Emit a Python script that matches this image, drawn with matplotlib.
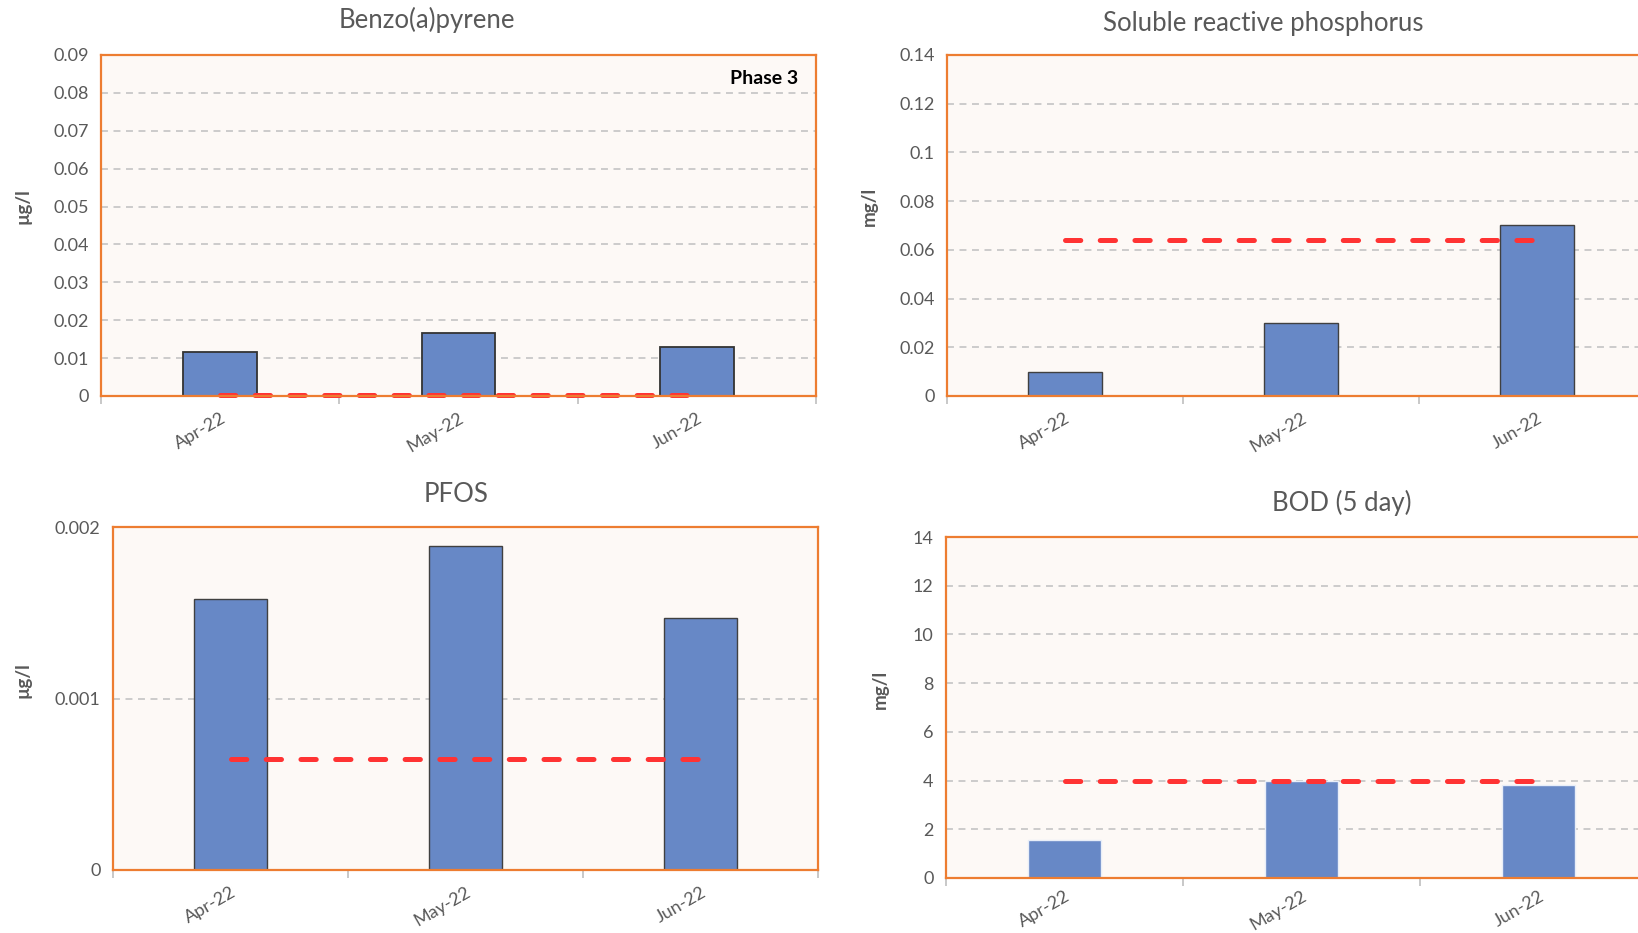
import matplotlib
matplotlib.use("Agg")
from matplotlib import pyplot as plt
from matplotlib.ticker import FuncFormatter, MultipleLocator
import numpy as np

plt.rcParams['font.family'] = ['Lato', 'DejaVu Sans']
plt.rcParams['lines.scale_dashes'] = False

# data
months = ["Apr-22", "May-22", "Jun-22"]

bap_values = [0.0115, 0.0165, 0.013]
bap_limit = 0.0002

srp_values = [0.010, 0.030, 0.070]
srp_limit = 0.064

pfos_values = [0.00158, 0.00189, 0.00147]
pfos_limit = 0.00065

bod_values = [1.55, 4.0, 3.8]
bod_limit = 4.0

# colours
BAR = "#6788C6"
ORANGE = "#ED7D31"
BG = "#FDF9F6"
GRID = "#C8C8C8"
RED = "#FF3333"
TXT = "#595959"

W, H = 1638, 933
fig = plt.figure(figsize=(W / 100, H / 100), dpi=100)


def px_rect(left, top, right, bottom):
    return [left / W, 1 - bottom / H, (right - left) / W, (bottom - top) / H]


def draw_panel(rect, title, title_xy, ylabel, ylabel_xy, values, limit,
               ymax, ystep, edge, edge_lw, xpad=10):
    ax = fig.add_axes(px_rect(*rect))
    ax.set_facecolor(BG)
    x = np.arange(len(months))

    ax.bar(x, values, width=0.31, color=BAR, edgecolor=edge, linewidth=edge_lw, zorder=3)
    ax.plot(x, [limit] * len(x), color=RED, linewidth=3.6,
            dashes=(11, 14), dash_capstyle='round', zorder=4, clip_on=False)

    ax.set_xlim(-0.5, len(months) - 0.5)
    ax.set_ylim(0, ymax)
    ax.yaxis.set_major_locator(MultipleLocator(ystep))
    ax.yaxis.set_major_formatter(FuncFormatter(lambda v, p: "{:g}".format(round(v, 6))))
    ax.grid(axis='y', color=GRID, linestyle=(0, (5, 4)), linewidth=1.3, zorder=1)

    ax.set_xticks(x)
    ax.set_xticklabels(months, rotation=30, ha='right', rotation_mode='anchor')
    ax.set_xticks(np.arange(len(months) + 1) - 0.5, minor=True)
    ax.tick_params(axis='x', which='major', length=0, pad=xpad, labelsize=13, labelcolor=TXT)
    ax.tick_params(axis='x', which='minor', length=6, width=1.2, color="#BFBFBF")
    ax.tick_params(axis='y', length=0, pad=9, labelsize=13, labelcolor=TXT)

    for s in ax.spines.values():
        s.set_color(ORANGE)
        s.set_linewidth(1.6)
        s.set_zorder(5)

    fig.text(title_xy[0] / W, 1 - title_xy[1] / H, title, ha='center', va='center',
             fontsize=18.5, color=TXT)
    fig.text(ylabel_xy[0] / W, 1 - ylabel_xy[1] / H, ylabel, ha='center', va='center',
             rotation=90, fontsize=13.5, fontweight='bold', color=TXT)
    return ax


ax1 = draw_panel((101, 55, 816, 396), "Benzo(a)pyrene", (427, 20), "µg/l", (23, 206),
                 bap_values, bap_limit, 0.09, 0.01, "#333333", 1.3)
ax1.text(0.975, 0.93, "Phase 3", transform=ax1.transAxes, ha='right', va='center',
         fontsize=14, fontweight='bold', color='black')

draw_panel((947, 55, 1655, 396), "Soluble reactive phosphorus", (1263, 23), "mg/l", (869, 206),
           srp_values, srp_limit, 0.14, 0.02, "#404040", 1.0)

draw_panel((113, 527, 818, 870), "PFOS", (456, 495), "µg/l", (23, 680),
           pfos_values, pfos_limit, 0.002, 0.001, "#404040", 1.0)

draw_panel((946, 537, 1657, 878), "BOD (5 day)", (1342, 503), "mg/l", (880, 689),
           bod_values, bod_limit, 14, 2, "#E8EEF8", 1.0, xpad=7)

fig.savefig("out.png", dpi=100, facecolor="white")
